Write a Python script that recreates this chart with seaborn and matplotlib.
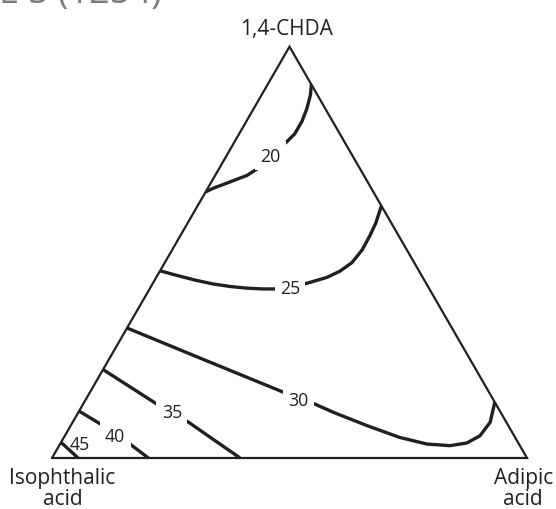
import numpy as np
import matplotlib
matplotlib.use("Agg")
import matplotlib.pyplot as plt
import seaborn as sns

# Composition of each contour path, in percent of 1,4-CHDA and adipic acid
# (isophthalic acid makes up the rest).
levels = [20, 25, 30, 35, 40, 45]

chda_20 = [90.8, 88.2, 84.9, 81.8, 78.8, 76.9, 74.0, 70.7, 68.7, 67.1, 65.6, 64.7]
adip_20 = [9.2, 10.3, 11.2, 11.7, 11.7, 11.0, 9.6, 8.4, 6.7, 3.9, 1.2, 0.0]

chda_25 = [61.3, 57.2, 54.0, 50.6, 47.5, 45.4, 43.9, 42.5, 41.6, 41.1, 41.1,
           41.3, 41.7, 42.3, 43.2, 44.2, 45.5]
adip_25 = [38.7, 39.6, 39.9, 40.0, 39.4, 37.9, 35.9, 32.5, 29.3, 26.8, 23.7,
           20.3, 16.6, 12.8, 8.7, 4.8, 0.0]

chda_30 = [31.6, 23.8, 16.0, 14.4, 13.1, 11.1, 7.9, 5.0, 3.4, 3.0, 3.65, 5.4,
           8.7, 12.7, 13.6]
adip_30 = [0.0, 20.3, 40.7, 44.6, 48.8, 53.7, 62.3, 70.7, 77.2, 82.3, 85.5,
           87.4, 87.9, 86.7, 86.4]

chda_35 = [21.5, 12.9, 11.1, 8.7, 4.4, 0.0]
adip_35 = [0.0, 15.9, 19.7, 24.4, 31.9, 39.6]

chda_40 = [11.4, 8.3, 5.4, 3.4, 0.0]
adip_40 = [0.0, 6.0, 10.6, 14.7, 20.3]

chda_45 = [3.8, 0.0]
adip_45 = [0.0, 5.5]

# Where each contour value is written
label_chda = [73.5, 41.4, 14.2, 11.1, 5.35, 3.4]
label_adip = [9.2, 29.4, 44.7, 19.7, 10.6, 4.2]

vertex_names = ["1,4-CHDA", "Isophthalic", "acid", "Adipic", "acid"]

INK = "#231f20"
SQ3 = np.sqrt(3) / 2


def to_xy(chda, adip):
    chda = np.asarray(chda, dtype=float) / 100
    adip = np.asarray(adip, dtype=float) / 100
    return adip + chda / 2, chda * SQ3


sns.set_theme(style="white")
plt.rcParams["font.family"] = ["Open Sans", "DejaVu Sans"]

W, H = 556, 510
fig = plt.figure(figsize=(W / 100, H / 100), dpi=100)
ax = fig.add_axes([0, 0, 1, 1])
ax.set_xlim(-52 / 475, 504 / 475)
ax.set_ylim(-51 / 475, 459 / 475)
ax.set_axis_off()

# triangle outline: Isophthalic -> Adipic -> 1,4-CHDA -> Isophthalic
tx, ty = to_xy([0, 0, 100, 0], [0, 100, 0, 0])
sns.lineplot(x=tx, y=ty, sort=False, estimator=None, color=INK,
             linewidth=1.6, ax=ax, solid_joinstyle="miter")

paths = [
    (chda_20, adip_20), (chda_25, adip_25), (chda_30, adip_30),
    (chda_35, adip_35), (chda_40, adip_40), (chda_45, adip_45),
]
for chda, adip in paths:
    x, y = to_xy(chda, adip)
    sns.lineplot(x=x, y=y, sort=False, estimator=None, color=INK,
                 linewidth=2.4, ax=ax, solid_capstyle="butt",
                 solid_joinstyle="round")

lx, ly = to_xy(label_chda, label_adip)
for lev, x, y in zip(levels, lx, ly):
    box = None if lev == 45 else dict(boxstyle="square,pad=0.3", fc="white", ec="none")
    ax.text(x, y, str(lev), ha="center", va="center", fontsize=12.8,
            color=INK, bbox=box, zorder=5)


def ftext(px, py, s, **kw):
    fig.text(px / W, 1 - py / H, s, **kw)


ftext(286, 35, vertex_names[0], ha="center", va="baseline",
      fontsize=15, color=INK)
ftext(62.5, 484.5, vertex_names[1], ha="center", va="baseline",
      fontsize=15, color=INK)
ftext(62.5, 505, vertex_names[2], ha="center", va="baseline",
      fontsize=15, color=INK)
ftext(524, 484.5, vertex_names[3], ha="center", va="baseline",
      fontsize=15, color=INK)
ftext(523, 505, vertex_names[4], ha="center", va="baseline",
      fontsize=15, color=INK)

# heading running off the top edge
ftext(-1, 3, "E S (1254)", ha="left", va="baseline", fontsize=26,
      color="#7a7a7a")

fig.savefig("out.png", dpi=100)
